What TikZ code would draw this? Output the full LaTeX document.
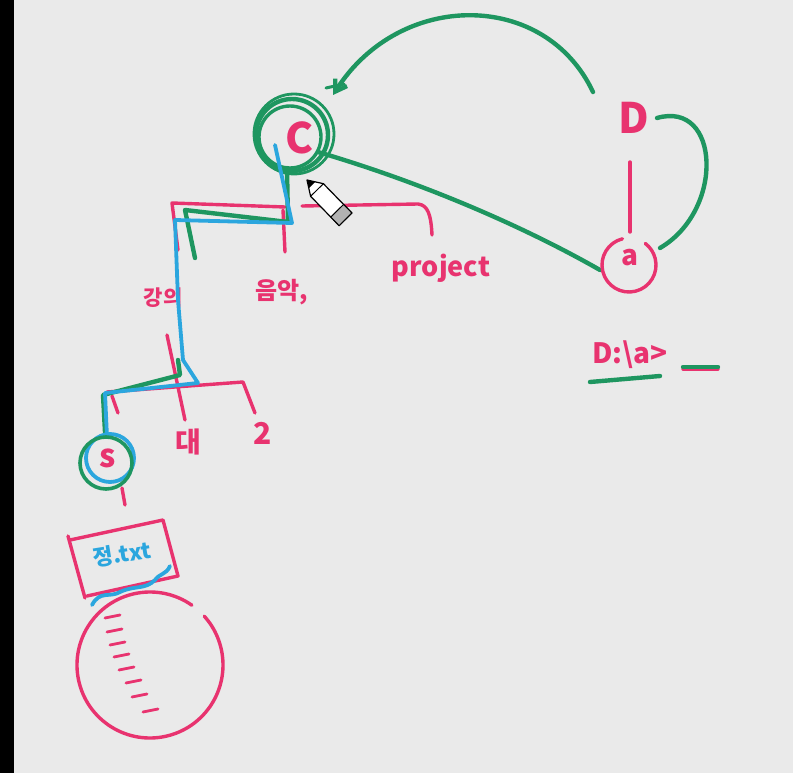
\documentclass[tikz,border=0pt]{standalone}
\usepackage{fontspec}
\setmainfont{Noto Sans CJK KR}
\usetikzlibrary{arrows.meta,calc}
\definecolor{pk}{HTML}{E8336F}
\definecolor{gr}{HTML}{1E9660}
\definecolor{bl}{HTML}{2BA6DE}
\definecolor{bgc}{HTML}{EAEAEA}
\begin{document}
\begin{tikzpicture}[x=1pt,y=-1pt,line cap=round,line join=round,
  pinkline/.style={draw=pk,line width=3.4pt},
  greenline/.style={draw=gr,line width=4.4pt},
  blueline/.style={draw=bl,line width=3.8pt},
  lab/.style={text=pk,inner sep=1pt},
  fs/.style={font=\fontsize{#1}{#1}\selectfont\bfseries}]
\fill[bgc] (0,0) rectangle (793,773);
\fill[black] (0,0) rectangle (14,773);
\useasboundingbox (0,0) rectangle (793,773);

% labels
\node[lab,fs=42] (C) at (300,138) {C};
\node[lab,fs=42] (D) at (634,118) {D};
\node[lab,fs=28] (a) at (630,258) {a};
\node[lab,fs=27] (proj) at (441,268) {project};
\node[lab,fs=24] (music) at (282,292) {음악,};
\node[lab,fs=21] (lect) at (163,298) {강의};
\node[lab,fs=28] (dae) at (188,442) {대};
\node[lab,fs=30] (two) at (263,433) {2};
\node[lab,fs=32] (s) at (108,458) {s};
\node[text=bl,inner sep=0pt,fs=22,rotate=9] (file) at (122,554) {정.txt};
\node[lab,fs=28] (prompt) at (630,355) {D:\textbackslash a>};

% coordinates
\coordinate (Cc) at (292,135);
\coordinate (Ctip) at (333,95);
\coordinate (Dtop) at (593,92);
\coordinate (Dright) at (657,118);
\coordinate (aright) at (660,248);
\coordinate (aleft) at (600,270);
\coordinate (Cright) at (318,152);
\coordinate (Sc) at (108,461);
\coordinate (Bc) at (150,665);

% C rings
\draw[greenline] (Cc) circle[radius=36pt];
\draw[greenline,line width=3.4pt] ($(Cc)+(-2,2)$) circle[radius=31pt];
\draw[greenline,line width=2.8pt] ($(Cc)+(2,-1)$) circle[radius=40pt];

% green arrow D -> C
\draw[greenline,-{Straight Barb[length=11pt,width=14pt]}] (Dtop) .. controls (545,-10) and (400,-10) .. (Ctip);
\draw[greenline,line width=3pt] (326,88) -- (344,84);
% green C -- a
\draw[greenline] (Cright) .. controls (430,185) and (530,230) .. (aleft);
% green D -- a
\draw[greenline] (Dright) .. controls (720,100) and (725,210) .. (aright);
% pink D -- a
\draw[pinkline] (630,162) -- (630,232);
% pink arc around a
\draw[pinkline] (629,265) ++(104:27pt) arc[start angle=104,end angle=413,radius=27pt];

% pink upper bracket
\draw[pinkline] (178,250) -- (172,203) -- (285,207);
\draw[pinkline] (302,206) -- (418,204) .. controls (428,205) and (431,215) .. (432,235);
\draw[pinkline] (283,210) -- (285,252);
% pink lower
\draw[pinkline] (167,335) -- (185,420);
\draw[pinkline] (107,392) -- (243,382) -- (255,413);
\draw[pinkline] (112,396) -- (118,413);
\draw[pinkline] (122,488) -- (125,505);

% green path
\draw[greenline] (287,168) -- (288,222) -- (185,210) -- (195,258);
\draw[greenline] (178,360) -- (180,375) -- (103,395) -- (105,432);
% blue path
\draw[blueline] (275,145) -- (292,223) -- (175,220) -- (178,300) -- (183,360) -- (198,383) -- (105,393) -- (107,437);

% s rings
\draw[blueline] ($(Sc)+(2,-3)$) circle[radius=24pt];
\draw[greenline,line width=3.6pt] ($(Sc)+(-2,2)$) circle[radius=26pt];

% file rectangle
\draw[pinkline] (68,536) -- (85,598);
\draw[pinkline] (70,540) -- (163,520) -- (178,576) -- (87,596);
\draw[blueline] (92,605) .. controls (100,590) and (110,598) .. (120,592) .. controls (135,585) and (145,590) .. (155,580) .. controls (160,573) and (166,575) .. (170,566);

% big circle
\draw[pinkline] (Bc) ++(55:73pt) arc[start angle=55,end angle=402,radius=73pt];
\foreach \xa/\ya in {105/618,107/632,110/645,114/657,119/670,126/683,132/697,143/712}
  \draw[pinkline,line width=2.8pt] (\xa,\ya) -- ++(15,-3);

% prompt decorations
\draw[greenline] (590,382) -- (660,376);
\draw[pinkline] (683,369) -- (718,369);
\draw[greenline] (683,367) -- (718,367);

% pencil cursor
\fill[white,draw=black,line width=1.2pt] (307,180) -- (323.4,183.7) -- (351.9,213) -- (339.1,225.6) -- (310.6,196.3) -- cycle;
\fill[gray!60,draw=black,line width=1pt] (343.6,204.4) -- (351.9,213) -- (339.1,225.6) -- (330.8,217) -- cycle;
\draw[black,line width=1pt] (323.4,183.7) -- (310.6,196.3);
\fill[black] (307,180) -- (315,182) -- (309,188) -- cycle;
\end{tikzpicture}
\end{document}
